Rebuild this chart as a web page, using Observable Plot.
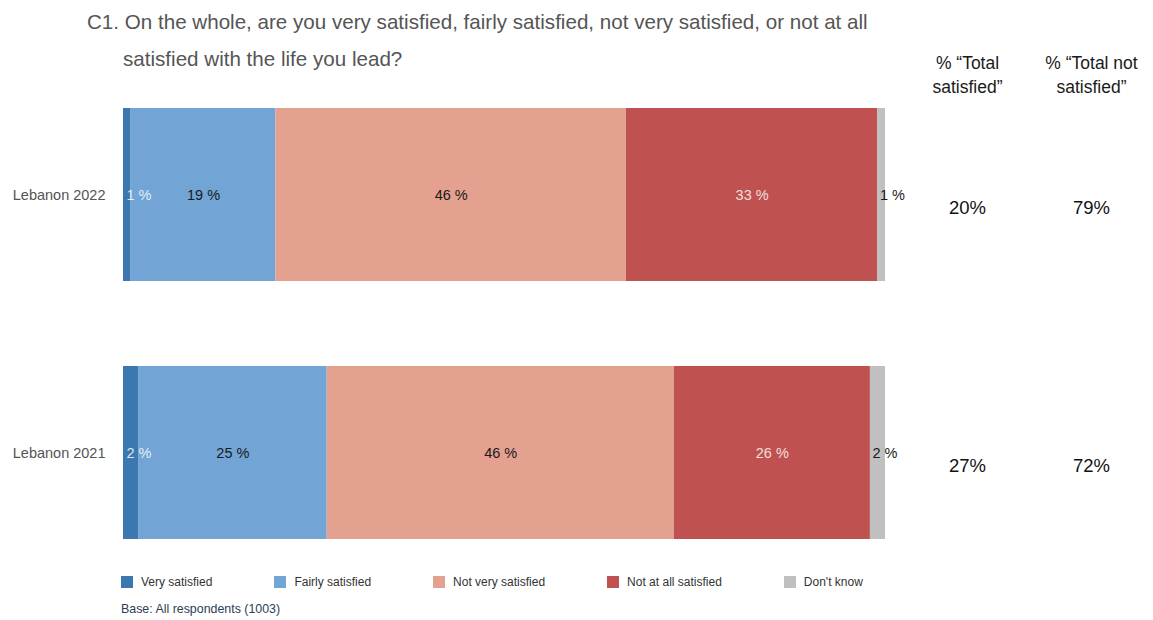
<!DOCTYPE html>
<html><head><meta charset="utf-8">
<script src="https://cdn.jsdelivr.net/npm/d3@7"></script>
<script src="https://cdn.jsdelivr.net/npm/@observablehq/plot@0.6"></script>
<style>
body{margin:0;background:#fff;font-family:"Liberation Sans",Arial,sans-serif;}
#wrap{position:relative;width:1153px;height:620px;overflow:hidden;}
#title{position:absolute;left:87px;top:3px;font-size:20.6px;line-height:37px;color:#555;padding-left:36px;text-indent:-36px;width:900px;white-space:nowrap;}
#main{position:absolute;left:0;top:0;}
#totals{position:absolute;left:905px;top:0;}
#legend{position:absolute;left:121px;top:575px;display:flex;font-size:12px;color:#333;}
#legend .item{display:flex;align-items:center;margin-right:62px;}
#legend .sw{width:12px;height:12px;margin-right:8px;}
#base{position:absolute;left:121px;top:602px;font-size:12.4px;color:#2b3e55;}
</style></head>
<body><div id="wrap">
<div id="main"></div><div id="totals"></div>
<div id="title"></div><div id="legend"></div><div id="base"></div>
</div>
<script>
const titleLines = ["C1. On the whole, are you very satisfied, fairly satisfied, not very satisfied, or not at all", "satisfied with the life you lead?"];
const countries = ["Lebanon 2022", "Lebanon 2021"];
const categories = ["Very satisfied", "Fairly satisfied", "Not very satisfied", "Not at all satisfied", "Don't know"];
const colors = ["#3b78b0", "#72a5d6", "#e5a190", "#bf5250", "#c0c0c0"];
const values2022 = [1, 19, 46, 33, 1];
const values2021 = [2, 25, 46, 26, 2];
const totalColumns = ["Total satisfied", "Total not satisfied"];
const totalHeaders = ["% \u201cTotal\nsatisfied\u201d", "% \u201cTotal not\nsatisfied\u201d"];
const totalSatisfied = [20, 27];
const totalNotSatisfied = [79, 72];
const baseNote = "Base: All respondents (1003)";

const seriesByCountry = [values2022, values2021];
const data = [];
countries.forEach((c, i) => categories.forEach((cat, j) => data.push({country: c, category: cat, value: seriesByCountry[i][j]})));
const totals = [];
countries.forEach((c, i) => {
  totals.push({country: c, col: totalColumns[0], value: totalSatisfied[i]});
  totals.push({country: c, col: totalColumns[1], value: totalNotSatisfied[i]});
});

const smallCats = ["Very satisfied", "Don't know"];
const lightCats = ["Very satisfied", "Not at all satisfied"];
const lbl = d => d.value + " %";
const stackOpts = extra => ({x: "value", y: "country", z: "category", order: categories, offset: "normalize", ...extra});
const light = "rgba(255,255,255,0.82)";
const dark = "#1a1a1a";
const labelSize = 14.5;

const yScale = {type: "band", domain: countries, paddingInner: 0.33, paddingOuter: 0};

const main = Plot.plot({
  width: 905, height: 620,
  marginTop: 108, marginBottom: 81, marginLeft: 123, marginRight: 20,
  style: {fontFamily: "Liberation Sans, Arial, sans-serif", background: "#fff"},
  x: {axis: null},
  y: {...yScale, label: null},
  color: {domain: categories, range: colors},
  marks: [
    Plot.barX(data, Plot.stackX({x: "value", y: "country", fill: "category", order: categories, offset: "normalize"})),
    Plot.text(data, Plot.stackX(stackOpts({text: d => (!smallCats.includes(d.category) && !lightCats.includes(d.category)) ? lbl(d) : "", fill: dark, fontSize: labelSize}))),
    Plot.text(data, Plot.stackX(stackOpts({text: d => (!smallCats.includes(d.category) && lightCats.includes(d.category)) ? lbl(d) : "", fill: light, fontSize: labelSize}))),
    Plot.text(data, Plot.stackX1(stackOpts({text: d => (smallCats.includes(d.category) && lightCats.includes(d.category)) ? lbl(d) : "", fill: light, fontSize: labelSize, textAnchor: "start", dx: 3}))),
    Plot.text(data, Plot.stackX1(stackOpts({text: d => (smallCats.includes(d.category) && !lightCats.includes(d.category)) ? lbl(d) : "", fill: dark, fontSize: labelSize, textAnchor: "start", dx: 2}))),
    Plot.axisY({tickSize: 0, tickPadding: 18, fontSize: 14.5, fill: "#555", label: null})
  ]
});
document.getElementById("main").appendChild(main);

const tot = Plot.plot({
  width: 248, height: 620,
  marginTop: 108, marginBottom: 81, marginLeft: 0, marginRight: 0,
  style: {fontFamily: "Liberation Sans, Arial, sans-serif", background: "transparent", overflow: "visible"},
  x: {type: "point", domain: totalColumns, padding: 0.5},
  y: {...yScale, axis: null},
  marks: [
    Plot.axisX({anchor: "top", tickSize: 0, tickPadding: 16, fontSize: 17.5, lineHeight: 1.35, fill: "#1a1a1a", label: null,
      tickFormat: d => totalHeaders[totalColumns.indexOf(d)]}),
    Plot.text(totals, {x: "col", y: "country", text: d => d.value + "%", fontSize: 18.5, dy: 13, fill: "#111"})
  ]
});
document.getElementById("totals").appendChild(tot);

document.getElementById("title").innerHTML = titleLines.join("<br>");
const leg = document.getElementById("legend");
categories.forEach((c, i) => {
  const it = document.createElement("div"); it.className = "item";
  const sw = document.createElement("div"); sw.className = "sw"; sw.style.background = colors[i];
  const t = document.createElement("span"); t.textContent = c;
  it.appendChild(sw); it.appendChild(t); leg.appendChild(it);
});
document.getElementById("base").textContent = baseNote;
</script>
</body></html>
